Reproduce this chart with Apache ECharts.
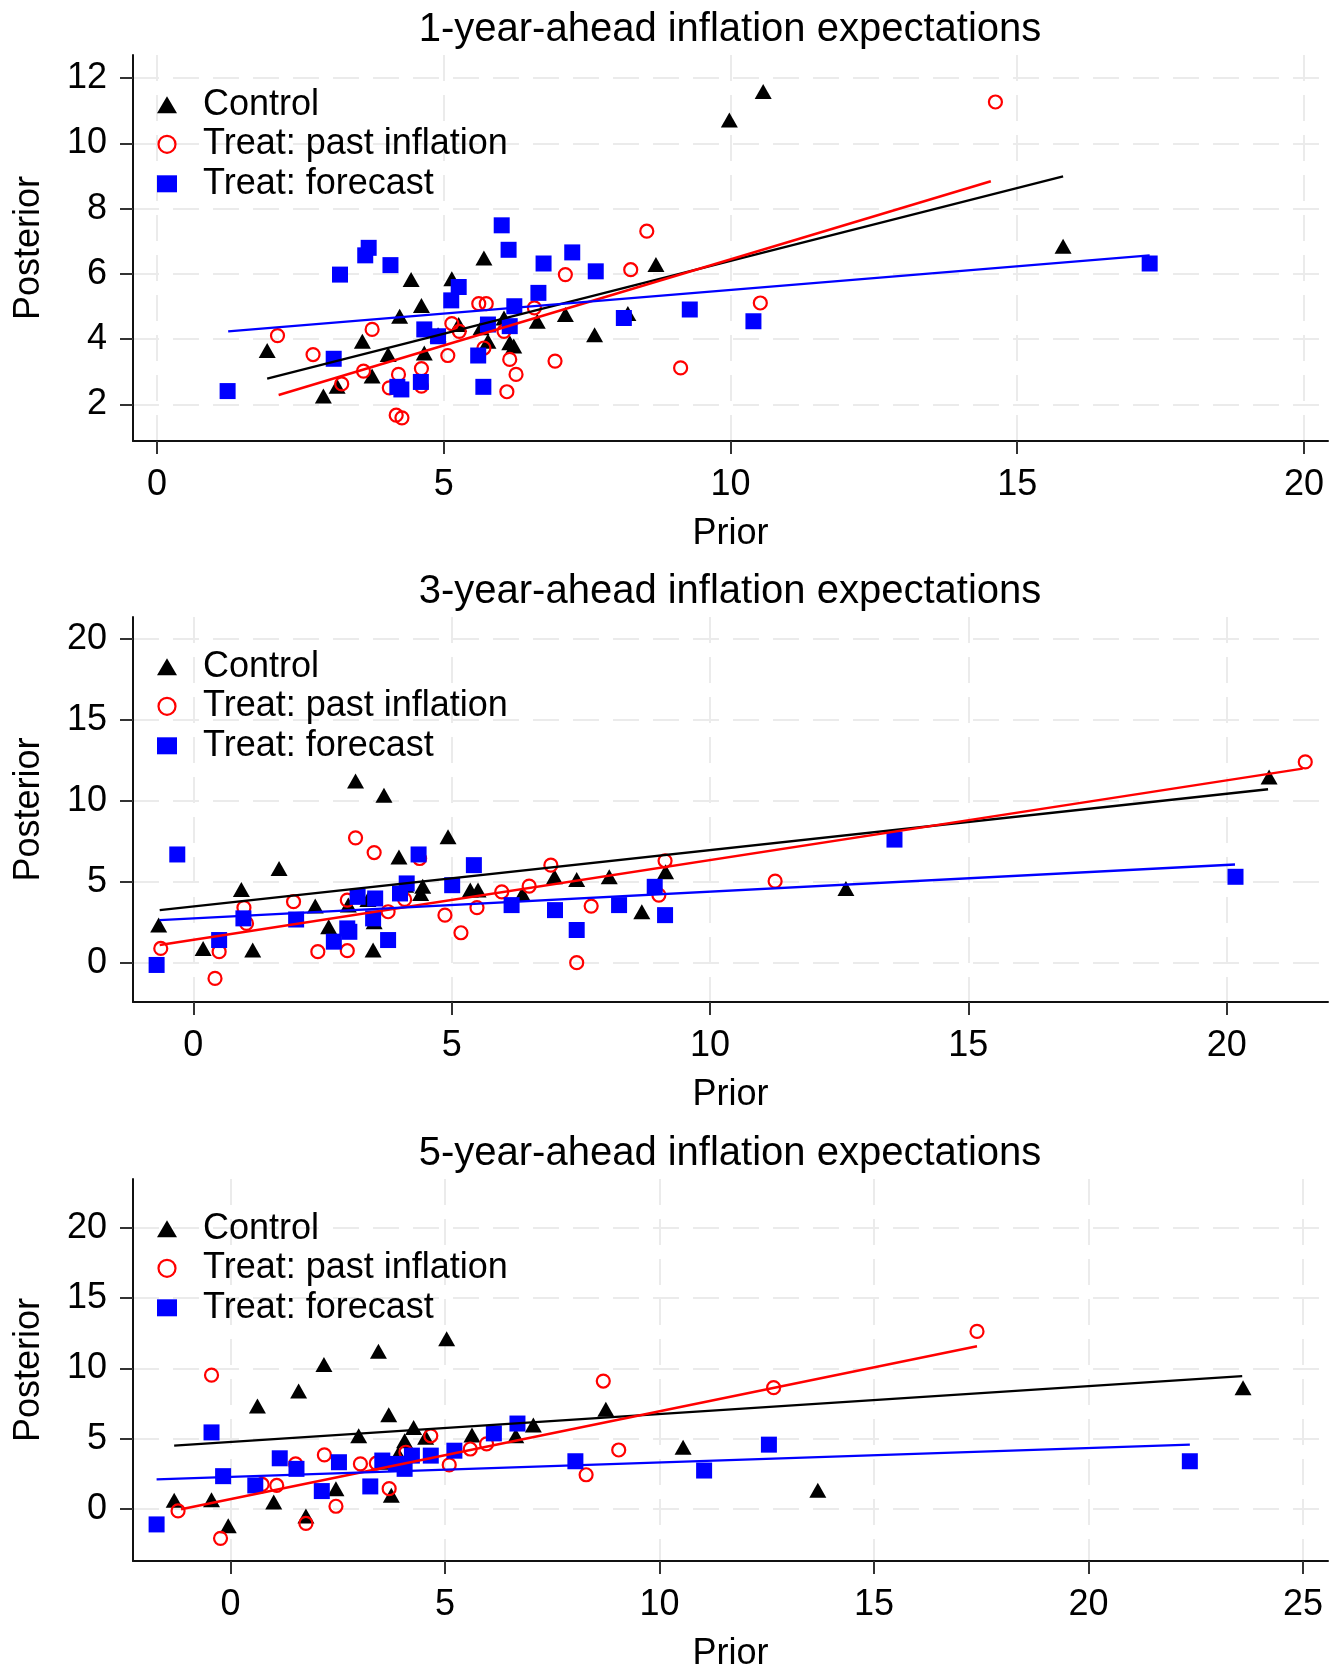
<!DOCTYPE html>
<html>
<head>
<meta charset="utf-8">
<script src="https://cdn.jsdelivr.net/npm/echarts@6/dist/echarts.min.js"></script>
<style>
html,body{margin:0;padding:0;background:#fff;}
#chart{width:1338px;height:1673px;}
</style>
</head>
<body>
<div id="chart"></div>
<script>
// ---------- DATA ----------
const titles = ['1-year-ahead inflation expectations', '3-year-ahead inflation expectations', '5-year-ahead inflation expectations'];
const seriesNames = ['Control', 'Treat: past inflation', 'Treat: forecast'];
const xLabelName = 'Prior';
const yLabelName = 'Posterior';

const xTicks1 = [0, 5, 10, 15, 20];
const yTicks1 = [2, 4, 6, 8, 10, 12];
const xTicks2 = [0, 5, 10, 15, 20];
const yTicks2 = [0, 5, 10, 15, 20];
const xTicks3 = [0, 5, 10, 15, 20, 25];
const yTicks3 = [0, 5, 10, 15, 20];

const y1Control = [[1.92,3.65],[2.90,2.26],[3.14,2.56],[3.58,3.94],[3.75,2.87],[4.03,3.53],[4.23,4.70],[4.43,5.83],[4.61,5.03],[4.66,3.58],[4.90,4.14],[5.14,5.85],[5.26,4.45],[5.65,4.35],[5.70,6.49],[5.77,3.94],[6.05,4.65],[6.15,3.89],[6.22,3.79],[6.63,4.55],[7.12,4.76],[7.63,4.14],[8.21,4.79],[8.70,6.29],[9.98,10.72],[10.57,11.59],[15.80,6.85]];
const y1Past = [[2.10,4.11],[2.72,3.53],[3.22,2.63],[3.60,3.02],[3.75,4.30],[4.05,2.51],[4.17,1.67],[4.27,1.59],[4.21,2.92],[4.61,3.10],[4.61,2.56],[5.07,3.50],[5.14,4.48],[5.27,4.24],[5.61,5.09],[5.74,5.09],[5.70,3.73],[6.05,4.24],[6.15,3.38],[6.26,2.92],[6.10,2.39],[6.58,4.96],[6.94,3.33],[7.12,5.98],[8.26,6.13],[8.54,7.31],[9.13,3.12],[10.52,5.11],[14.62,11.27]];
const y1Forecast = [[1.23,2.41],[3.08,3.40],[3.19,5.98],[3.63,6.57],[3.69,6.80],[4.07,6.27],[4.19,2.54],[4.26,2.46],[4.60,2.69],[4.66,4.30],[4.90,4.09],[5.13,5.19],[5.26,5.60],[5.60,3.50],[5.69,2.54],[5.77,4.45],[6.01,7.49],[6.13,6.74],[6.15,4.40],[6.23,5.01],[6.65,5.42],[6.74,6.32],[7.24,6.66],[7.65,6.08],[8.14,4.65],[9.29,4.91],[10.40,4.55],[17.31,6.32]];
const y1ControlFit = [[1.92,2.79],[15.80,8.99]];
const y1PastFit = [[2.12,2.29],[14.54,8.84]];
const y1ForecastFit = [[1.24,4.24],[17.31,6.57]];

const y3Control = [[-0.67,2.33],[0.19,0.88],[0.93,4.53],[1.15,0.78],[1.66,5.82],[2.36,3.50],[2.62,2.22],[3.00,3.56],[3.14,11.23],[3.38,3.91],[3.50,2.53],[3.48,0.78],[3.69,10.35],[3.98,6.54],[4.11,4.79],[4.40,4.28],[4.44,4.73],[4.93,7.78],[5.36,4.49],[5.51,4.49],[6.37,4.24],[6.99,5.31],[7.42,5.14],[8.05,5.31],[8.68,3.15],[9.14,5.62],[12.63,4.59],[20.82,11.48]];
const y3Past = [[-0.63,0.88],[0.42,-0.97],[0.50,0.68],[0.98,3.40],[1.03,2.43],[1.94,3.77],[2.41,0.68],[2.98,0.74],[2.98,3.87],[3.14,7.72],[3.50,6.81],[3.77,3.15],[4.09,3.91],[4.38,6.44],[4.87,2.94],[5.18,1.85],[5.49,3.40],[5.97,4.38],[6.50,4.73],[6.92,6.03],[7.42,0.0],[7.70,3.50],[9.01,4.18],[9.13,6.30],[11.26,5.04],[21.52,12.41]];
const y3Forecast = [[-0.71,-0.14],[-0.31,6.69],[0.50,1.40],[0.97,2.74],[1.99,2.67],[2.72,1.30],[2.98,2.12],[3.02,1.91],[3.18,4.07],[3.52,3.97],[3.48,2.74],[3.77,1.40],[4.00,4.28],[4.13,4.90],[4.36,6.69],[5.01,4.79],[5.43,6.03],[6.16,3.56],[7.00,3.25],[7.42,2.02],[8.24,3.56],[8.93,4.69],[9.13,2.94],[13.57,7.61],[20.17,5.31]];
const y3ControlFit = [[-0.65,3.25],[20.80,10.72]];
const y3PastFit = [[-0.65,1.09],[21.47,12.0]];
const y3ForecastFit = [[-0.65,2.63],[20.16,6.07]];

const y5Control = [[-1.31,0.64],[-0.44,0.68],[-0.05,-1.18],[0.63,7.34],[1.01,0.52],[1.59,8.40],[1.76,-0.49],[2.18,10.28],[2.46,1.46],[2.99,5.22],[3.45,11.22],[3.58,3.34],[3.69,6.71],[3.75,0.99],[3.91,3.93],[4.06,4.87],[4.27,5.81],[4.55,5.11],[5.04,12.12],[5.63,5.27],[6.65,5.22],[7.06,5.98],[8.75,7.11],[10.55,4.40],[13.69,1.34],[23.60,8.64]];
const y5Past = [[-1.22,-0.12],[-0.44,9.53],[-0.23,-2.07],[0.74,1.76],[1.08,1.69],[1.52,3.22],[1.76,-1.01],[2.19,3.86],[2.46,0.21],[3.03,3.22],[3.40,3.27],[3.70,1.46],[4.09,4.05],[4.67,5.22],[5.10,3.15],[5.59,4.28],[5.97,4.64],[8.29,2.45],[8.69,9.11],[9.05,4.21],[12.66,8.64],[17.40,12.64]];
const y5Forecast = [[-1.72,-1.08],[-0.44,5.46],[-0.17,2.35],[0.58,1.69],[1.15,3.62],[1.54,2.87],[2.13,1.29],[2.53,3.34],[3.26,1.62],[3.54,3.46],[3.86,3.22],[4.06,2.87],[4.23,3.81],[4.67,3.81],[5.22,4.16],[6.14,5.39],[6.69,6.09],[8.04,3.41],[11.04,2.75],[12.55,4.59],[22.36,3.41]];
const y5ControlFit = [[-1.31,4.52],[23.58,9.46]];
const y5PastFit = [[-1.15,0.0],[17.40,11.58]];
const y5ForecastFit = [[-1.72,2.12],[22.36,4.59]];

// ---------- LAYOUT / STYLE ----------
const FONT = '"Liberation Sans", Arial, sans-serif';
const panels = [
  {title: titles[0], top: 55, height: 386, xMin: -0.42, xMax: 20.42, yMin: 0.88, yMax: 12.71, xTicks: xTicks1, yTicks: yTicks1,
   pts: [y1Control, y1Past, y1Forecast], fits: [y1ControlFit, y1PastFit, y1ForecastFit]},
  {title: titles[1], top: 617, height: 385, xMin: -1.167, xMax: 21.96, yMin: -2.43, yMax: 21.37, xTicks: xTicks2, yTicks: yTicks2,
   pts: [y3Control, y3Past, y3Forecast], fits: [y3ControlFit, y3PastFit, y3ForecastFit]},
  {title: titles[2], top: 1179, height: 384, xMin: -2.27, xMax: 25.58, yMin: -3.68, yMax: 23.47, xTicks: xTicks3, yTicks: yTicks3,
   pts: [y5Control, y5Past, y5Forecast], fits: [y5ControlFit, y5PastFit, y5ForecastFit]}
];
const colors = ['#000000', '#ff0000', '#0000ff'];
const gridLine = {show: true, lineStyle: {color: '#ebebeb', width: 2, type: [26, 14]}};

const option = {
  animation: false,
  backgroundColor: '#fff',
  textStyle: {fontFamily: FONT},
  title: [], grid: [], xAxis: [], yAxis: [], legend: [], series: []
};

panels.forEach((p, i) => {
  option.title.push({
    text: p.title, left: 730, top: p.top - 25, padding: 0,
    textAlign: 'center', textVerticalAlign: 'middle',
    textStyle: {fontFamily: FONT, fontSize: 40, fontWeight: 'normal', color: '#000'}
  });
  option.grid.push({left: 133, right: 10, top: p.top, height: p.height, containLabel: false});
  option.xAxis.push({
    gridIndex: i, type: 'value', min: p.xMin, max: p.xMax,
    name: xLabelName, nameLocation: 'middle', nameGap: 75,
    nameTextStyle: {fontFamily: FONT, fontSize: 36, color: '#000'},
    axisLine: {show: true, onZero: false, lineStyle: {color: '#111', width: 2}},
    axisTick: {show: true, length: 13, customValues: p.xTicks, lineStyle: {color: '#333', width: 2}},
    axisLabel: {customValues: p.xTicks, fontFamily: FONT, fontSize: 36, color: '#000', margin: 26},
    splitLine: gridLine
  });
  option.yAxis.push({
    gridIndex: i, type: 'value', min: p.yMin, max: p.yMax,
    name: yLabelName, nameLocation: 'middle', nameGap: 86, nameRotate: 90,
    nameTextStyle: {fontFamily: FONT, fontSize: 36, color: '#000'},
    axisLine: {show: true, onZero: false, lineStyle: {color: '#111', width: 2}},
    axisTick: {show: true, length: 13, customValues: p.yTicks, lineStyle: {color: '#333', width: 2}},
    axisLabel: {customValues: p.yTicks, fontFamily: FONT, fontSize: 36, color: '#000', margin: 26},
    splitLine: gridLine
  });
  option.legend.push({
    orient: 'vertical', left: 157, top: p.top + 31.8, padding: 0, selectedMode: false,
    itemWidth: 20, itemHeight: 17, itemGap: 3.5,
    textStyle: {fontFamily: FONT, fontSize: 36, color: '#000', lineHeight: 36, padding: [0, 0, 0, 21]},
    data: [
      {name: seriesNames[0], icon: 'triangle', itemStyle: {color: '#000'}},
      {name: seriesNames[1], icon: 'circle', itemStyle: {color: 'rgba(255,0,0,0)', borderColor: '#ff0000', borderWidth: 2.2}},
      {name: seriesNames[2], icon: 'rect', itemStyle: {color: '#0000ff'}}
    ]
  });
  option.series.push({
    type: 'scatter', name: seriesNames[0], xAxisIndex: i, yAxisIndex: i, data: p.pts[0],
    symbol: 'triangle', symbolSize: [17, 15], itemStyle: {color: colors[0], opacity: 1}, silent: true, z: 2
  });
  option.series.push({
    type: 'scatter', name: seriesNames[1], xAxisIndex: i, yAxisIndex: i, data: p.pts[1],
    symbol: 'circle', symbolSize: 13,
    itemStyle: {color: 'rgba(255,0,0,0)', borderColor: colors[1], borderWidth: 2.2, opacity: 1}, silent: true, z: 2
  });
  option.series.push({
    type: 'scatter', name: seriesNames[2], xAxisIndex: i, yAxisIndex: i, data: p.pts[2],
    symbol: 'rect', symbolSize: 16, itemStyle: {color: colors[2], opacity: 1}, silent: true, z: 2
  });
  p.fits.forEach((f, k) => {
    option.series.push({
      type: 'line', name: seriesNames[k] + ' fit', xAxisIndex: i, yAxisIndex: i, data: f,
      showSymbol: false, symbol: 'none', silent: true, z: 3,
      lineStyle: {color: colors[k], width: 2.4}
    });
  });
});

const chart = echarts.init(document.getElementById('chart'), null, {renderer: 'canvas'});
chart.setOption(option);
</script>
</body>
</html>
